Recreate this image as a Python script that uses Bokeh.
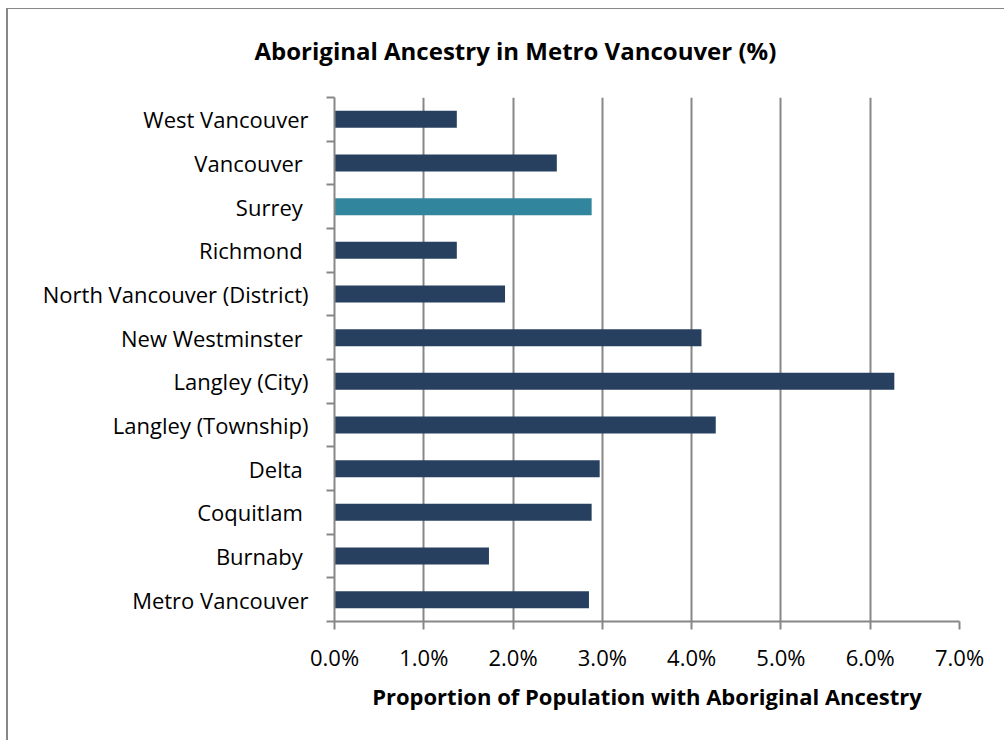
from bokeh.plotting import figure
from bokeh.models import (Range1d, FixedTicker, PrintfTickFormatter, Title,
                          ColumnDataSource)
from bokeh.embed import file_html
from bokeh.resources import INLINE

# ---- data (bottom to top) ----
cities = ["Metro Vancouver", "Burnaby ", "Coquitlam ", "Delta ",
          "Langley (Township)", "Langley (City)", "New Westminster ",
          "North Vancouver (District)", "Richmond ", "Surrey ",
          "Vancouver ", "West Vancouver"]
values = [2.85, 1.73, 2.88, 2.97, 4.27, 6.27, 4.11, 1.91, 1.37, 2.88, 2.49, 1.37]
highlight = "Surrey "
x_ticks = [0, 1, 2, 3, 4, 5, 6, 7]

NAVY = "#27405f"
TEAL = "#31859c"
GRAY = "#878787"
FONT = "Open Sans"

pos = [i + 0.5 for i in range(len(cities))]
colors = [TEAL if c == highlight else NAVY for c in cities]
src = ColumnDataSource(dict(y=pos, v=values, c=colors, name=cities))

p = figure(width=1004, height=740, output_backend="svg", toolbar_location=None,
           x_range=Range1d(0, 7), y_range=Range1d(0, len(cities)),
           min_border_left=334, min_border_right=45,
           min_border_top=96, min_border_bottom=119)
p.title = None
p.outline_line_color = None
p.background_fill_color = "white"
p.border_fill_color = None
# chart border (left + top) drawn behind the transparent canvas border area
p.styles = {"background-color": "white",
            "box-shadow": "inset 6px 8px 0 0 white, inset 8px 9px 0 0 " + GRAY}

p.hbar(y="y", right="v", left=0, height=0.39, fill_color="c",
       line_color="c", line_width=0, source=src)

# x axis
xa = p.xaxis[0]
xa.ticker = FixedTicker(ticks=x_ticks)
xa.formatter = PrintfTickFormatter(format="%.1f%%")
xa.axis_line_color = GRAY
xa.axis_line_width = 2
xa.major_tick_line_color = GRAY
xa.major_tick_line_width = 2
xa.major_tick_in = 0
xa.major_tick_out = 8
xa.minor_tick_line_color = None
xa.major_label_text_font = FONT
xa.major_label_text_font_size = "22px"
xa.major_label_text_color = "#000000"
xa.major_label_standoff = 12
xa.axis_label = "Proportion of Population with Aboriginal Ancestry"
xa.axis_label_text_font = FONT
xa.axis_label_text_font_style = "bold"
xa.axis_label_text_font_size = "22px"
xa.axis_label_text_color = "#000000"
xa.axis_label_standoff = 6

# y axis: labels at centers, ticks at boundaries
ya = p.yaxis[0]
ya.ticker = FixedTicker(ticks=pos, minor_ticks=list(range(len(cities) + 1)))
ya.major_label_overrides = {p_: c for p_, c in zip(pos, cities)}
ya.axis_line_color = GRAY
ya.axis_line_width = 2
ya.major_tick_line_color = None
ya.major_tick_in = 0
ya.major_tick_out = 0
ya.minor_tick_line_color = GRAY
ya.minor_tick_line_width = 2
ya.minor_tick_in = 0
ya.minor_tick_out = 8
ya.major_label_text_font = FONT
ya.major_label_text_font_size = "22px"
ya.major_label_text_color = "#000000"
ya.major_label_standoff = 18

p.xgrid.ticker = FixedTicker(ticks=x_ticks[1:])
p.xgrid.grid_line_color = GRAY
p.xgrid.grid_line_width = 2
p.ygrid.grid_line_color = None

# title
t = Title(text="Aboriginal Ancestry in Metro Vancouver (%)", align="left",
          offset=-80, text_font=FONT, text_font_style="bold",
          text_font_size="24px", text_color="#000000", standoff=62)
p.add_layout(t, "above")

open("out.html", "w").write(file_html(p, INLINE))
